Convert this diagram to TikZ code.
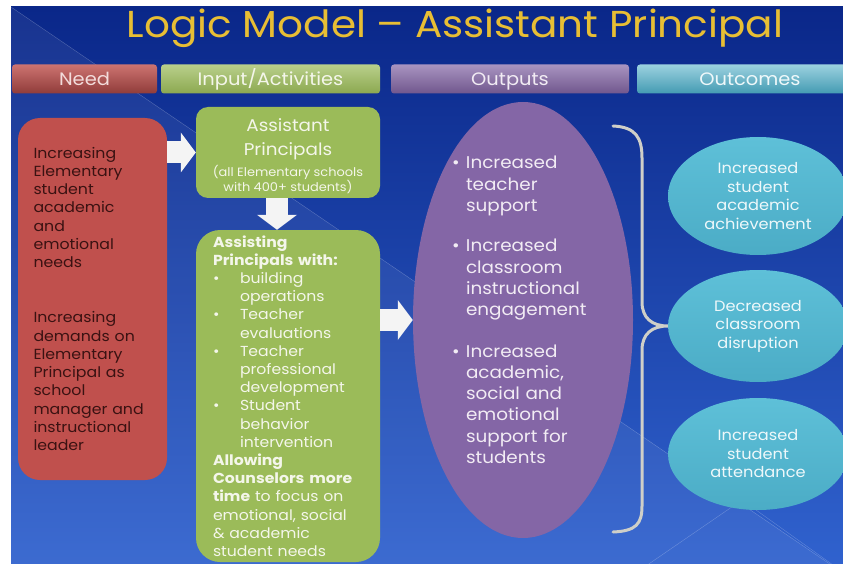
\documentclass[tikz,border=0pt]{standalone}
\usepackage{fontspec}
\setmainfont{Poppins}[FakeStretch=1.08]
\usetikzlibrary{arrows.meta,shapes.geometric}

\definecolor{navy}{HTML}{0A2789}
\definecolor{navymid}{HTML}{1440B0}
\definecolor{royal}{HTML}{3062CE}
\definecolor{gold}{HTML}{E8BE34}
\definecolor{needred}{HTML}{C0504D}
\definecolor{needink}{HTML}{3A1212}
\definecolor{inputgreen}{HTML}{9BBB59}
\definecolor{inputink}{HTML}{F4F6EA}
\definecolor{outputpurple}{HTML}{8466A6}
\definecolor{outputink}{HTML}{F2ECF4}
\definecolor{outcomeaqua}{HTML}{4BACC6}
\definecolor{outcomelight}{HTML}{5EC0D8}
\definecolor{outcomeink}{HTML}{EEF8FA}
\definecolor{bracegray}{HTML}{CFCFC8}
\definecolor{arrowwhite}{HTML}{F4F4F4}

\newcommand{\listdot}[1]{\makebox[#1][l]{\textbullet}}
\newcommand{\listgap}[1]{\hspace*{#1}}

\tikzset{
  bar/.style={rounded corners=3pt, minimum height=29pt, inner sep=0pt, text height=13pt, text depth=0.5pt,
    font=\fontsize{18}{18}\selectfont},
  needbox/.style={fill=needred, rounded corners=22pt, text=needink, inner sep=0pt,
    text width=118pt, align=left, font=\fontsize{14.6}{18.3}\selectfont},
  inputbox/.style={fill=inputgreen, text=inputink, inner sep=0pt},
  outputshape/.style={ellipse, fill=outputpurple, inner sep=0pt},
  outcome/.style={ellipse, top color=outcomelight, bottom color=outcomeaqua, inner sep=0pt,
    minimum width=180pt, minimum height=112pt, text=outcomeink, align=center,
    font=\fontsize{15}{18.5}\selectfont},
  blockarrow/.style={draw=arrowwhite, line width=22pt, -{Triangle[width=40pt,length=15pt,line width=0pt]}},
  bracket/.style={draw=bracegray, line width=3pt, line cap=round},
}

\begin{document}
\begin{tikzpicture}[x=1pt,y=-1pt]
  \useasboundingbox (0,0) rectangle (843,564);

  % Background
  \begin{scope}
    \clip (11,7) rectangle (843,564);
    \shade[top color=navy, middle color=navymid, bottom color=royal] (11,7) rectangle (843,564);
    \fill[white,opacity=0.06] (11,7) -- (843,573) -- (11,573) -- cycle;
    \draw[white,opacity=0.25] (11,7) -- (843,573);
    \draw[white,opacity=0.25] (640,570) -- (742,500) -- (840,570);
  \end{scope}

  % Title
  \node[anchor=base, text=gold, font=\fontsize{37.5}{37.5}\selectfont] (title) at (455,38)
    {Logic Model – Assistant Principal};

  % Column headers
  \node[bar, top color=needred!80!white, bottom color=needred!75!black, text=needred!20!white,
    minimum width=145pt] (hneed) at (84.5,79) {Need};
  \node[bar, top color=inputgreen!70!white, bottom color=inputgreen!90!black, text=inputink,
    minimum width=219pt] (hinput) at (270.5,79) {Input/Activities};
  \node[bar, top color=outputpurple!70!white, bottom color=outputpurple!85!black, text=outputink,
    minimum width=238pt] (houtput) at (510,79) {Outputs};
  \node[bar, top color=outcomeaqua!55!white, bottom color=outcomeaqua!90!black, text=outcomeink,
    minimum width=226pt] (houtcome) at (750,79) {Outcomes};

  % Need
  \node[needbox, minimum width=149pt, minimum height=362pt] (need) at (92.5,299)
    {Increasing\\Elementary\\student\\academic\\and\\emotional\\needs\\[36.6pt]
     Increasing\\demands on\\Elementary\\Principal as\\school\\manager and\\instructional\\leader};

  % Inputs and activities
  \node[inputbox, rounded corners=12pt, minimum width=184pt, minimum height=91pt,
    text width=176pt, align=center] (ap) at (288,152.5)
    {\fontsize{17}{24}\selectfont \rule{0pt}{20pt}Assistant\\Principals\par\vspace{4pt}
     \fontsize{12}{15}\selectfont (all Elementary schools\\with 400+ students)};
  \node[inputbox, rounded corners=24pt, minimum width=184pt, minimum height=332pt,
    text width=150pt, align=left, font=\fontsize{14.5}{18.2}\selectfont] (assist) at (288,396)
    {\textbf{Assisting}\\\textbf{Principals with:}\\
     \listdot{27pt}building\\\listgap{27pt}operations\\
     \listdot{27pt}Teacher\\\listgap{27pt}evaluations\\
     \listdot{27pt}Teacher\\\listgap{27pt}professional\\\listgap{27pt}development\\
     \listdot{27pt}Student\\\listgap{27pt}behavior\\\listgap{27pt}intervention\\
     \textbf{Allowing}\\\textbf{Counselors more}\\\textbf{time} to focus on\\
     emotional, social\\\& academic\\student needs};

  % Outputs
  \node[outputshape, minimum width=220pt, minimum height=436pt] (outp) at (523,320) {};
  \node[text=outputink, text width=140pt, align=left, inner sep=0pt,
    font=\fontsize{17}{21.3}\selectfont] (outtext) at (522,310)
    {\listdot{14pt}Increased\\\listgap{14pt}teacher\\\listgap{14pt}support\\[19pt]
     \listdot{14pt}Increased\\\listgap{14pt}classroom\\\listgap{14pt}instructional\\\listgap{14pt}engagement\\[20pt]
     \listdot{14pt}Increased\\\listgap{14pt}academic,\\\listgap{14pt}social and\\\listgap{14pt}emotional\\
     \listgap{14pt}support for\\\listgap{14pt}students};

  % Outcomes
  \node[outcome, minimum height=118pt] (oc1) at (758,196) {Increased\\student\\academic\\achievement};
  \node[outcome] (oc2) at (758,326) {Decreased\\classroom\\disruption};
  \node[outcome] (oc3) at (758,454) {Increased\\student\\attendance};

  % Arrows
  \draw[blockarrow] (need.east |- ap.west) -- (ap.west);
  \draw[blockarrow] ([xshift=-11pt]ap.south) -- ([xshift=-11pt]assist.north);
  \draw[blockarrow] (outp.west -| assist.east) -- (outp.west);

  % Brace
  \draw[bracket] (613,126) .. controls (636,127) and (642,138) .. (642,158) -- (642,302)
    .. controls (642,318) and (652,326) .. (oc2.west)
    .. controls (652,326) and (642,334) .. (642,350) -- (642,506)
    .. controls (642,524) and (636,531) .. (613,532);
\end{tikzpicture}
\end{document}
